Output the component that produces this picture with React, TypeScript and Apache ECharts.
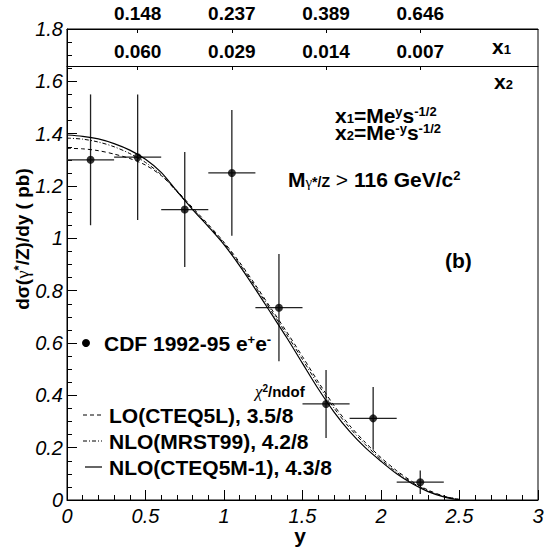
import React, { useEffect, useRef } from "react";
import * as echarts from "echarts";

// ---- data ----
const CURVE_Y = [0, 0.1, 0.2, 0.3, 0.4, 0.5, 0.6, 0.7, 0.8, 0.9, 1.0, 1.1, 1.2, 1.3, 1.4, 1.5, 1.6, 1.7, 1.8, 1.9, 2.0, 2.1, 2.2, 2.3, 2.4, 2.5];
const LO_CTEQ5L = [1.344, 1.342, 1.335, 1.322, 1.305, 1.28, 1.24, 1.182, 1.117, 1.053, 0.985, 0.908, 0.822, 0.732, 0.642, 0.548, 0.452, 0.362, 0.285, 0.22, 0.162, 0.112, 0.07, 0.038, 0.015, 0.002];
const NLO_MRST99 = [1.383, 1.379, 1.368, 1.35, 1.324, 1.29, 1.243, 1.178, 1.113, 1.048, 0.981, 0.902, 0.815, 0.724, 0.632, 0.537, 0.441, 0.352, 0.276, 0.212, 0.155, 0.106, 0.066, 0.035, 0.014, 0.002];
const NLO_CTEQ5M1 = [1.395, 1.39, 1.38, 1.362, 1.337, 1.302, 1.252, 1.18, 1.11, 1.045, 0.976, 0.895, 0.806, 0.713, 0.62, 0.522, 0.425, 0.337, 0.262, 0.2, 0.148, 0.1, 0.062, 0.032, 0.012, 0.0];

const DATA_Y = [0.15, 0.45, 0.75, 1.05, 1.35, 1.65, 1.95, 2.25];
const DATA_SIGMA = [1.3, 1.31, 1.11, 1.25, 0.735, 0.367, 0.312, 0.068];
const DATA_XERR = [0.15, 0.15, 0.15, 0.15, 0.15, 0.15, 0.15, 0.15];
const DATA_YERR = [0.25, 0.24, 0.22, 0.24, 0.205, 0.13, 0.12, 0.045];

const TOP_TICKS = [0.45, 1.05, 1.65, 2.25];
const X1_LABELS = ["0.148", "0.237", "0.389", "0.646"];
const X2_LABELS = ["0.060", "0.029", "0.014", "0.007"];

const FONT = "'Liberation Sans', Arial, Helvetica, sans-serif";
const SERIF = "'Liberation Serif', 'DejaVu Serif', serif";

function lookup(labels: string[]) {
  return (v: number) => {
    const i = TOP_TICKS.findIndex((t) => Math.abs(t - v) < 1e-6);
    return i >= 0 ? labels[i] : "";
  };
}

const B = (size: number, lh: number) => ({
  fontFamily: FONT,
  fontWeight: "bold",
  fontSize: size,
  lineHeight: lh,
  fill: "#000",
});

function richText(x: number, y: number, text: string, rich: any, extra: any = {}) {
  return {
    type: "text",
    x,
    y,
    silent: true,
    ...extra,
    style: {
      text,
      rich,
      fill: "#000",
      align: extra.align || "left",
      verticalAlign: "middle",
    },
  };
}

export default function App() {
  const ref = useRef<HTMLDivElement>(null);
  useEffect(() => {
    if (!ref.current) return;
    const chart = echarts.init(ref.current, null, { renderer: "svg" });
    const pair = (ys: number[]) => CURVE_Y.map((x, i) => [x, ys[i]]);
    const errData = DATA_Y.map((x, i) => [x, DATA_SIGMA[i], DATA_XERR[i], DATA_YERR[i]]);

    // base line height 20, small tokens 8 => raise / lower by 6px
    const baseRich = {
      b: B(21, 20),
      sup: { ...B(13, 8), verticalAlign: "top" },
      sub: { ...B(13, 8), verticalAlign: "bottom" },
      n: { fontFamily: FONT, fontSize: 21, lineHeight: 20, fill: "#000" },
      g: { fontFamily: SERIF, fontSize: 15, lineHeight: 8, verticalAlign: "bottom", fill: "#000" },
      gs: { ...B(14, 8), verticalAlign: "bottom" },
    };

    const option: any = {
      animation: false,
      backgroundColor: "#fff",
      grid: {
        left: 67,
        right: 9,
        top: 29,
        bottom: 48,
        show: true,
        borderColor: "#000",
        borderWidth: 1,
        backgroundColor: "transparent",
      },
      xAxis: [
        {
          type: "value",
          position: "bottom",
          min: 0,
          max: 3,
          interval: 0.5,
          axisLine: { show: true, lineStyle: { color: "#000", width: 1 } },
          axisTick: { show: true, inside: true, length: 10, lineStyle: { color: "#000" } },
          minorTick: { show: true, splitNumber: 5, length: 5, lineStyle: { color: "#000" } },
          splitLine: { show: false },
          axisLabel: { color: "#000", fontFamily: FONT, fontStyle: "italic", fontSize: 20, margin: 6 },
        },
        {
          type: "value",
          position: "top",
          min: 0,
          max: 3,
          axisLine: { show: true, lineStyle: { color: "#000", width: 1 } },
          axisTick: { show: true, inside: true, length: 4, customValues: TOP_TICKS, lineStyle: { color: "#000" } },
          splitLine: { show: false },
          axisLabel: {
            customValues: TOP_TICKS,
            formatter: lookup(X1_LABELS),
            color: "#000",
            fontFamily: FONT,
            fontWeight: "bold",
            fontSize: 19,
            margin: 6,
          },
        },
        {
          type: "value",
          position: "top",
          offset: -37,
          min: 0,
          max: 3,
          axisLine: { show: true, lineStyle: { color: "#000", width: 1 } },
          axisTick: { show: true, inside: true, length: 4, customValues: TOP_TICKS, lineStyle: { color: "#000" } },
          splitLine: { show: false },
          axisLabel: {
            customValues: TOP_TICKS,
            formatter: lookup(X2_LABELS),
            color: "#000",
            fontFamily: FONT,
            fontWeight: "bold",
            fontSize: 19,
            margin: 5,
          },
        },
      ],
      yAxis: {
        type: "value",
        min: 0,
        max: 1.8,
        interval: 0.2,
        axisLine: { show: true, lineStyle: { color: "#000", width: 1 } },
        axisTick: { show: true, inside: true, length: 10, lineStyle: { color: "#000" } },
        minorTick: { show: true, splitNumber: 4, length: 5, lineStyle: { color: "#000" } },
        splitLine: { show: false },
        axisLabel: { color: "#000", fontFamily: FONT, fontStyle: "italic", fontSize: 20, margin: 4 },
      },
      series: [
        {
          name: "LO(CTEQ5L)",
          type: "line",
          data: pair(LO_CTEQ5L),
          showSymbol: false,
          smooth: 0.3,
          lineStyle: { color: "#000", width: 1, type: [4, 3] },
          silent: true,
        },
        {
          name: "NLO(MRST99)",
          type: "line",
          data: pair(NLO_MRST99),
          showSymbol: false,
          smooth: 0.3,
          lineStyle: { color: "#000", width: 1, type: [4, 2, 1, 2] },
          silent: true,
        },
        {
          name: "NLO(CTEQ5M-1)",
          type: "line",
          data: pair(NLO_CTEQ5M1),
          showSymbol: false,
          smooth: 0.3,
          lineStyle: { color: "#000", width: 1.2 },
          silent: true,
        },
        {
          name: "errors",
          type: "custom",
          data: errData,
          silent: true,
          renderItem: (params: any, api: any) => {
            const x = api.value(0), y = api.value(1), ex = api.value(2), ey = api.value(3);
            const l = api.coord([x - ex, y]);
            const r = api.coord([x + ex, y]);
            const t = api.coord([x, y + ey]);
            const b = api.coord([x, y - ey]);
            const st = { stroke: "#222", lineWidth: 1.3 };
            return {
              type: "group",
              children: [
                { type: "line", shape: { x1: l[0], y1: l[1], x2: r[0], y2: r[1] }, style: st },
                { type: "line", shape: { x1: t[0], y1: t[1], x2: b[0], y2: b[1] }, style: st },
              ],
            };
          },
        },
        {
          name: "CDF 1992-95 e+e-",
          type: "scatter",
          data: DATA_Y.map((x, i) => [x, DATA_SIGMA[i]]),
          symbol: "circle",
          symbolSize: 8,
          itemStyle: { color: "#000" },
          silent: true,
        },
      ],
      graphic: [
        // x-axis title
        richText(300, 535, "{b|y}", { b: B(21, 18) }, { align: "center" }),
        // y-axis title (rotated)
        richText(
          22,
          239,
          "{b|dσ(}{g|γ}{sup|*}{b|/Z)/dy ( pb)}",
          {
            b: B(19, 20),
            g: { fontFamily: SERIF, fontSize: 19, lineHeight: 20, fill: "#000" },
            sup: { ...B(13, 8), verticalAlign: "top" },
          },
          { align: "center", rotation: Math.PI / 2 }
        ),
        // row labels of top box
        richText(492, 46, "{b|x}{sub|1}", baseRich),
        richText(494, 81, "{b|x}{sub|2}", baseRich),
        // formulas
        richText(335, 115, "{b|x}{sub|1}{b|=Me}{sup|y}{b|s}{sup|-1/2}", baseRich),
        richText(335, 132, "{b|x}{sub|2}{b|=Me}{sup|-y}{b|s}{sup|-1/2}", baseRich),
        richText(288, 179, "{b|M}{g|γ}{gs|*/Z}{n| > }{b|116 GeV/c}{sup|2}", baseRich),
        richText(445, 260, "{b|(b)}", baseRich),
        // legend
        { type: "circle", shape: { cx: 86, cy: 343, r: 4 }, style: { fill: "#000" }, silent: true },
        richText(104, 343, "{b|CDF 1992-95 e}{sup|+}{b|e}{sup|-}", baseRich),
        richText(
          255,
          391,
          "{c|χ}{s|2}{b|/ndof}",
          {
            c: { fontFamily: SERIF, fontStyle: "italic", fontSize: 17, lineHeight: 16, fill: "#000" },
            s: { ...B(10, 6), verticalAlign: "top" },
            b: B(15, 16),
          }
        ),
        { type: "line", shape: { x1: 83, y1: 415, x2: 102, y2: 415 }, style: { stroke: "#000", lineWidth: 1, lineDash: [4, 3] }, silent: true },
        richText(109, 415, "{b|LO(CTEQ5L), 3.5/8}", baseRich),
        { type: "line", shape: { x1: 83, y1: 441, x2: 102, y2: 441 }, style: { stroke: "#000", lineWidth: 1, lineDash: [4, 2, 1, 2] }, silent: true },
        richText(109, 441, "{b|NLO(MRST99), 4.2/8}", baseRich),
        { type: "line", shape: { x1: 85, y1: 467, x2: 102, y2: 467 }, style: { stroke: "#000", lineWidth: 1.2 }, silent: true },
        richText(109, 467, "{b|NLO(CTEQ5M-1), 4.3/8}", baseRich),
      ],
    };
    chart.setOption(option);
    return () => chart.dispose();
  }, []);
  return (
    <div
      ref={ref}
      style={{ position: "fixed", left: 0, top: 0, width: 547, height: 548, background: "#fff" }}
    />
  );
}
